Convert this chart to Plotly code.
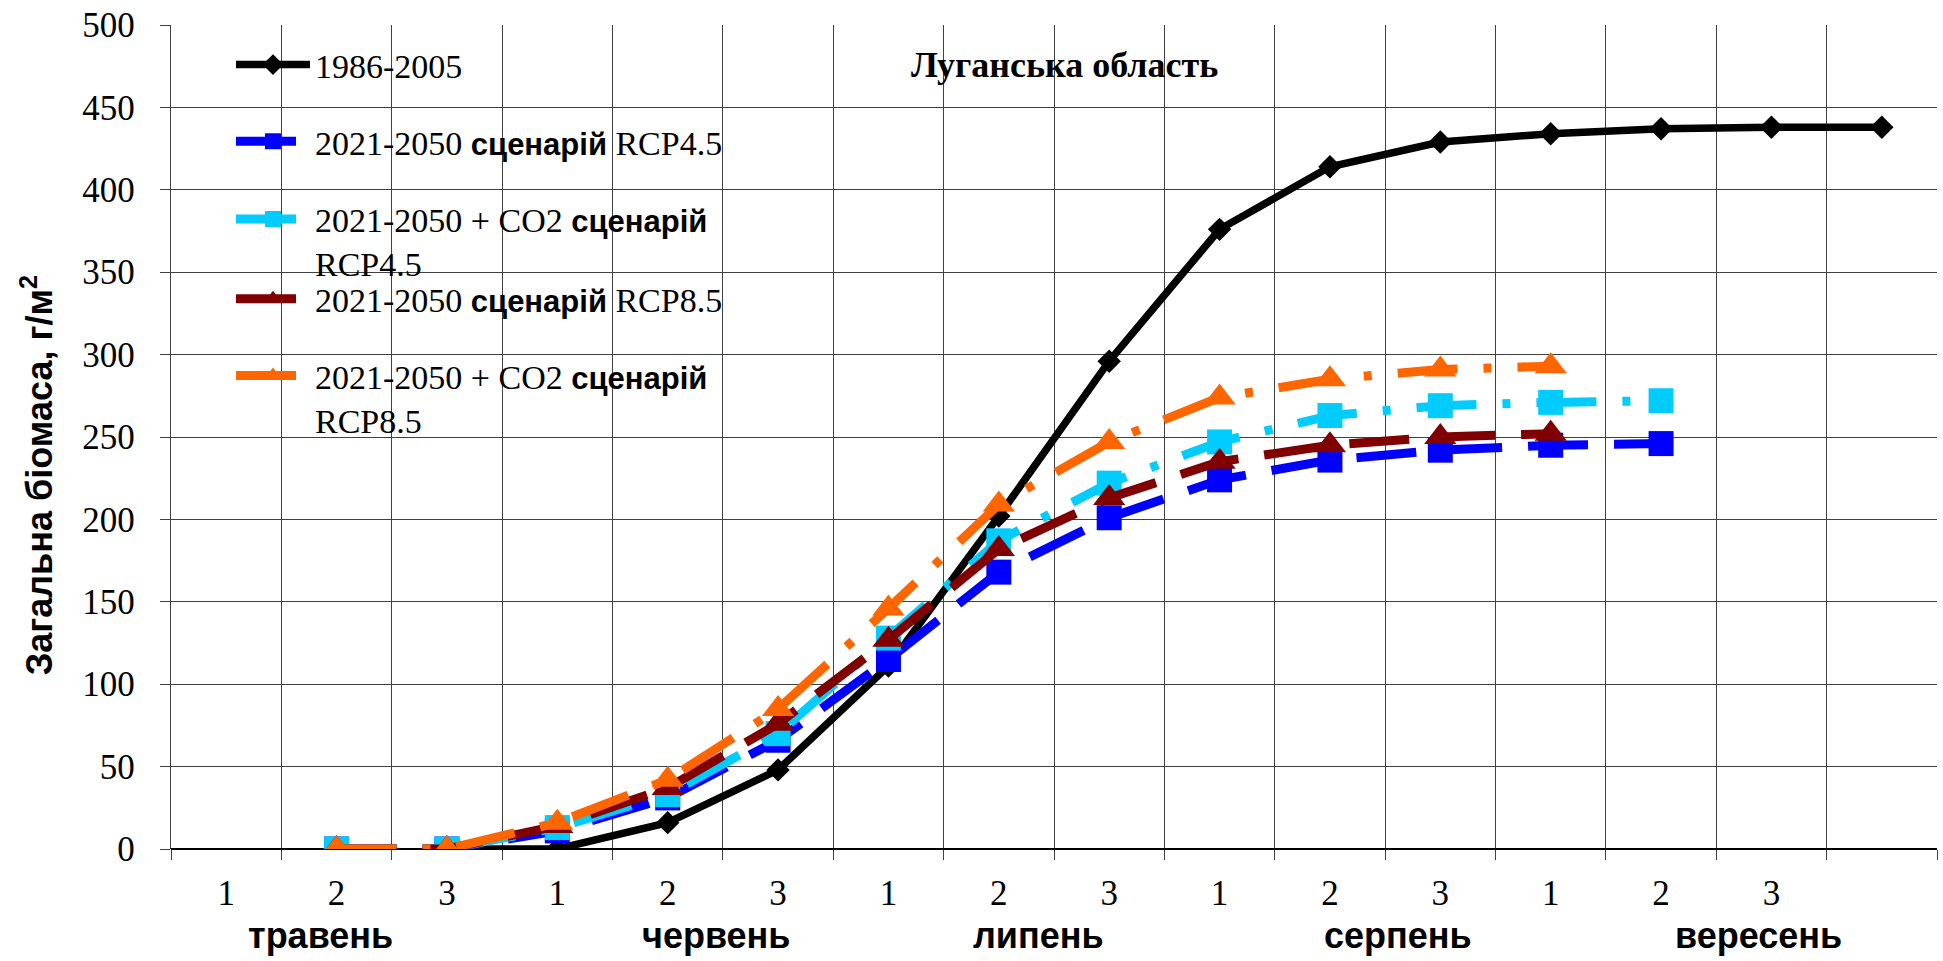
import plotly.graph_objects as go

# ---------------- data ----------------
categories = ["травень 1", "травень 2", "травень 3",
              "червень 1", "червень 2", "червень 3",
              "липень 1", "липень 2", "липень 3",
              "серпень 1", "серпень 2", "серпень 3",
              "вересень 1", "вересень 2", "вересень 3", "жовтень 1"]
tick_labels = ["1", "2", "3", "1", "2", "3", "1", "2", "3",
               "1", "2", "3", "1", "2", "3", ""]
months = ["травень", "червень", "липень", "серпень", "вересень"]

base_1986_2005 = [None, None, 0, 0, 16, 48, 111, 202, 296, 376, 414, 429, 434, 437, 438, 438]
rcp45 = [None, 0, 0, 11, 31, 66, 115, 168, 201, 224, 236, 242, 245, 246, None, None]
rcp45_co2 = [None, 0, 0, 13, 33, 70, 128, 187, 222, 247, 263, 269, 271, 272, None, None]
rcp85 = [None, 0, 0, 14, 37, 76, 127, 182, 213, 235, 245, 250, 252, None, None, None]
rcp85_co2 = [None, 0, 0, 16, 42, 85, 146, 209, 247, 274, 285, 291, 293, None, None, None]

title_text = "Луганська область"
y_title = "Загальна біомаса, г/м<sup>2</sup>"

# ---------------- styling ----------------
SERIF = "Liberation Serif"
SANS = "Liberation Sans"
SC = '<span style="font-family:Liberation Sans;font-size:31px"><b>сценарій</b></span>'

names = [
    "1986-2005",
    "2021-2050 " + SC + " RCP4.5",
    "2021-2050 + CO2 " + SC + "<br>RCP4.5",
    "2021-2050 " + SC + " RCP8.5",
    "2021-2050 + CO2 " + SC + "<br>RCP8.5",
]
series = [base_1986_2005, rcp45, rcp45_co2, rcp85, rcp85_co2]
colors = ["#000000", "#0000FF", "#00CCFF", "#800000", "#FF6600"]
dashes = ["solid", "60px,26px", "60px,26px,8px,26px", "60px,26px", "60px,26px,8px,26px"]
widths = [7.5, 9, 9, 9, 9]
symbols = ["diamond", "square", "square", "triangle-up", "triangle-up"]
msizes = [18, 25, 25, 28, 28]
legend_ids = ["legend", "legend2", "legend3", "legend4", "legend5"]

x_idx = list(range(len(categories)))

fig = go.Figure()
for nm, ys, c, d, w, s, ms, lg in zip(names, series, colors, dashes, widths, symbols, msizes, legend_ids):
    fig.add_trace(go.Scatter(
        x=x_idx, y=ys, name=nm, mode="lines+markers",
        line=dict(color=c, width=w, dash=d),
        marker=dict(symbol=s, size=ms, color=c, line=dict(width=0)),
        legend=lg, connectgaps=False,
    ))

# plot area: x 171..1937, y 22..849
L, R, T, B = 171, 6, 22, 112
W, H = 1943, 961
pw = W - L - R
ph = H - T - B

def px(xp):
    return (xp - L) / pw

def py(yp):
    return (H - B - yp) / ph

legend_common = dict(
    x=px(231), xanchor="left", yanchor="top", valign="top",
    itemwidth=74,
    bgcolor="rgba(0,0,0,0)", borderwidth=0,
    font=dict(family=SERIF, size=34, color="black"),
)
legend_tops = [33, 110, 188, 268, 345]
layout_legends = {}
for lg, top in zip(legend_ids, legend_tops):
    layout_legends[lg] = dict(legend_common, y=py(top))

grid_col = "#404040"
fig.update_layout(
    width=W, height=H,
    margin=dict(l=L, r=R, t=T, b=B, pad=0),
    paper_bgcolor="white", plot_bgcolor="white",
    font=dict(family=SERIF, size=35, color="black"),
    showlegend=True,
    **layout_legends,
    xaxis=dict(
        range=[-0.5, len(categories) - 0.5],
        tickmode="array", tickvals=x_idx, ticktext=tick_labels,
        ticks="", showgrid=False, zeroline=False,
        tickfont=dict(family=SERIF, size=35, color="black"),
        ticklabelstandoff=20,
        minor=dict(
            tickmode="array",
            tickvals=[i - 0.5 for i in range(len(categories) + 1)],
            showgrid=True, gridcolor=grid_col, gridwidth=1.3,
            ticks="outside", ticklen=10, tickcolor=grid_col, tickwidth=1.3,
        ),
        showline=False,
    ),
    yaxis=dict(
        range=[0, 500], dtick=50, tick0=0,
        showgrid=True, gridcolor=grid_col, gridwidth=1.3,
        ticks="outside", ticklen=10, tickcolor=grid_col, tickwidth=1.3,
        tickfont=dict(family=SERIF, size=35, color="black"),
        ticklabelstandoff=18,
        showline=True, linecolor=grid_col, linewidth=1.3,
        zeroline=True, zerolinecolor="black", zerolinewidth=2,
    ),
)

annotations = [
    dict(text="<b>" + title_text + "</b>", x=px(1064), y=py(62), xref="paper", yref="paper",
         showarrow=False, xanchor="center", yanchor="middle",
         font=dict(family=SERIF, size=36, color="black")),
    dict(text="<b>" + y_title + "</b>", x=px(37), y=py(474), xref="paper", yref="paper",
         showarrow=False, xanchor="center", yanchor="middle", textangle=-90,
         font=dict(family=SANS, size=36, color="black")),
]
month_x = [320, 716, 1038, 1398, 1758]
for m, mx in zip(months, month_x):
    annotations.append(dict(text="<b>" + m + "</b>", x=px(mx), y=py(936), xref="paper", yref="paper",
                            showarrow=False, xanchor="center", yanchor="middle",
                            font=dict(family=SANS, size=36, color="black")))
fig.update_layout(annotations=annotations)

fig.write_html("out.html")
